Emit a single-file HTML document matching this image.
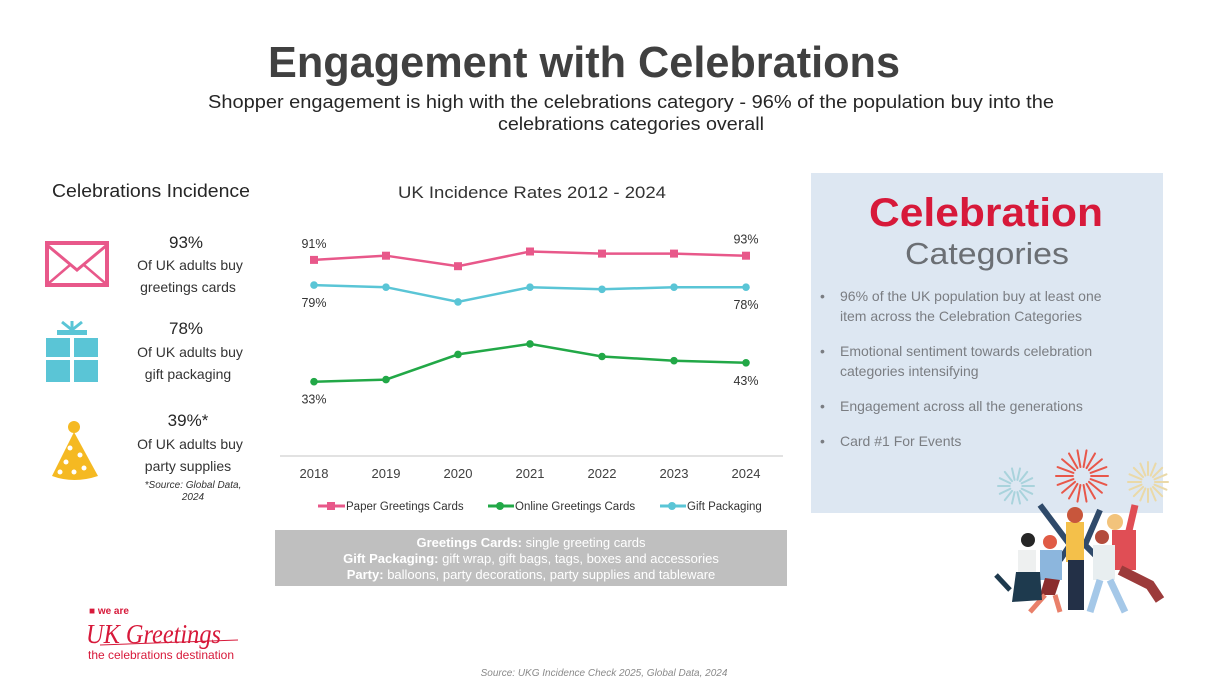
<!DOCTYPE html>
<html><head><meta charset="utf-8"><style>
html,body{margin:0;padding:0;background:#fff;}
svg{display:block;font-family:"Liberation Sans",sans-serif;}
</style></head><body>
<svg id="page" width="1208" height="684" viewBox="0 0 1208 684" xmlns="http://www.w3.org/2000/svg">
<text x="584" y="77" text-anchor="middle" font-size="44" font-weight="bold" fill="#404040" textLength="632" lengthAdjust="spacingAndGlyphs">Engagement with Celebrations</text>
<text x="631" y="108" text-anchor="middle" font-size="18" fill="#262626" textLength="846" lengthAdjust="spacingAndGlyphs">Shopper engagement is high with the celebrations category - 96% of the population buy into the</text>
<text x="631" y="130" text-anchor="middle" font-size="18" fill="#262626" textLength="266" lengthAdjust="spacingAndGlyphs">celebrations categories overall</text>

<!-- left panel -->
<text x="151" y="197" text-anchor="middle" font-size="18" fill="#262626" textLength="198" lengthAdjust="spacingAndGlyphs">Celebrations Incidence</text>
<g>
<rect x="47" y="243" width="60" height="42" fill="none" stroke="#e8588a" stroke-width="4"/>
<polyline points="47,245 77,270 107,245" fill="none" stroke="#e8588a" stroke-width="3"/>
<line x1="49" y1="283" x2="70" y2="265" stroke="#e8588a" stroke-width="2.5"/>
<line x1="105" y1="283" x2="84" y2="265" stroke="#e8588a" stroke-width="2.5"/>
</g>
<text x="186" y="248" text-anchor="middle" font-size="17" fill="#262626">93%</text>
<text x="190" y="270" text-anchor="middle" font-size="14" fill="#333">Of UK adults buy</text>
<text x="188" y="292" text-anchor="middle" font-size="14" fill="#333">greetings cards</text>
<g fill="#5ac5d6">
<rect x="46" y="338" width="24" height="19"/><rect x="74" y="338" width="24" height="19"/>
<rect x="46" y="360" width="24" height="22"/><rect x="74" y="360" width="24" height="22"/>
<rect x="57" y="330" width="30" height="5"/>
<path d="M72 330 L62 322 M72 330 L72 321 M72 330 L82 322" stroke="#5ac5d6" stroke-width="3"/>
</g>
<text x="186" y="334" text-anchor="middle" font-size="17" fill="#262626">78%</text>
<text x="190" y="357" text-anchor="middle" font-size="14" fill="#333">Of UK adults buy</text>
<text x="188" y="379" text-anchor="middle" font-size="14" fill="#333">gift packaging</text>
<g>
<path d="M74 432 L98 476 Q74 484 52 476 Z" fill="#f5b922"/>
<circle cx="74" cy="427" r="6" fill="#f5b922"/>
<circle cx="70" cy="448" r="2.5" fill="#fff"/><circle cx="80" cy="455" r="2.5" fill="#fff"/><circle cx="66" cy="462" r="2.5" fill="#fff"/><circle cx="84" cy="468" r="2.5" fill="#fff"/><circle cx="74" cy="472" r="2.5" fill="#fff"/><circle cx="60" cy="472" r="2.5" fill="#fff"/>
</g>
<text x="188" y="426" text-anchor="middle" font-size="17" fill="#262626">39%*</text>
<text x="190" y="449" text-anchor="middle" font-size="14" fill="#333">Of UK adults buy</text>
<text x="188" y="471" text-anchor="middle" font-size="14" fill="#333">party supplies</text>
<text x="193" y="488" text-anchor="middle" font-size="10" font-style="italic" fill="#333">*Source: Global Data,</text>
<text x="193" y="500" text-anchor="middle" font-size="10" font-style="italic" fill="#333">2024</text>

<!-- chart -->
<text x="532" y="198" text-anchor="middle" font-size="17" fill="#333" textLength="268" lengthAdjust="spacingAndGlyphs">UK Incidence Rates 2012 - 2024</text>
<line x1="280" y1="456" x2="783" y2="456" stroke="#d9d9d9" stroke-width="1.5"/>
<g id="chart"></g>
<g>
<g><line x1="318" y1="506" x2="345" y2="506" stroke="#e8588a" stroke-width="3"/><rect x="327" y="502" width="8" height="8" fill="#e8588a"/><text x="346" y="510" font-size="11.5" fill="#333">Paper Greetings Cards</text></g>
<g><line x1="488" y1="506" x2="514" y2="506" stroke="#22a847" stroke-width="3"/><circle cx="500" cy="506" r="4" fill="#22a847"/><text x="515" y="510" font-size="11.5" fill="#333">Online Greetings Cards</text></g>
<g><line x1="660" y1="506" x2="686" y2="506" stroke="#5ac5d6" stroke-width="3"/><circle cx="672" cy="506" r="4" fill="#5ac5d6"/><text x="687" y="510" font-size="11.5" fill="#333">Gift Packaging</text></g>
</g>

<g>
<rect x="275" y="530" width="512" height="56" fill="#bfbfbf"/>
<text x="531" y="547" text-anchor="middle" font-size="13" fill="#fff"><tspan font-weight="bold">Greetings Cards:</tspan> single greeting cards</text>
<text x="531" y="563" text-anchor="middle" font-size="13" fill="#fff"><tspan font-weight="bold">Gift Packaging:</tspan> gift wrap, gift bags, tags, boxes and accessories</text>
<text x="531" y="579" text-anchor="middle" font-size="13" fill="#fff"><tspan font-weight="bold">Party:</tspan> balloons, party decorations, party supplies and tableware</text>
</g>

<!-- right panel -->
<rect x="811" y="173" width="352" height="340" fill="#dde7f2"/>
<text x="986" y="226" text-anchor="middle" font-size="40" font-weight="bold" fill="#d7193a" textLength="234" lengthAdjust="spacingAndGlyphs">Celebration</text>
<text x="987" y="264" text-anchor="middle" font-size="31" fill="#6b6f74" textLength="164" lengthAdjust="spacingAndGlyphs">Categories</text>
<g font-size="14" fill="#7a7d82">
<text x="820" y="301">•</text><text x="840" y="301">96% of the UK population buy at least one</text>
<text x="840" y="321">item across the Celebration Categories</text>
<text x="820" y="356">•</text><text x="840" y="356">Emotional sentiment towards celebration</text>
<text x="840" y="376">categories intensifying</text>
<text x="820" y="411">•</text><text x="840" y="411">Engagement across all the generations</text>
<text x="820" y="446">•</text><text x="840" y="446">Card #1 For Events</text>
</g>
<g stroke-width="2" stroke-linecap="round">
<g id="fw1" stroke="#e8574a"></g><g id="fw2" stroke="#a9d3dc"></g><g id="fw3" stroke="#ead9a8"></g>
</g>
<g>
<path d="M1040 505 L1070 545 L1060 560" stroke="#2f4a6a" stroke-width="6" fill="none"/>
<path d="M1100 510 L1085 545 L1100 560" stroke="#2f4a6a" stroke-width="6" fill="none"/>
<rect x="1066" y="522" width="18" height="40" fill="#f4c04a"/>
<rect x="1068" y="560" width="16" height="50" fill="#233047"/>
<circle cx="1075" cy="515" r="8" fill="#c8563c"/>
<rect x="1112" y="530" width="24" height="40" fill="#e04e55"/>
<path d="M1128 535 L1135 505" stroke="#e04e55" stroke-width="7"/>
<path d="M1120 570 L1150 585 L1160 600" stroke="#9c3b3b" stroke-width="10" fill="none"/>
<circle cx="1115" cy="522" r="8" fill="#f2c37b"/>
<rect x="1093" y="545" width="22" height="35" fill="#e8eef0"/>
<path d="M1100 580 L1090 612 M1110 580 L1125 612" stroke="#a5c8e8" stroke-width="7"/>
<circle cx="1102" cy="537" r="7" fill="#b34c3c"/>
<rect x="1040" y="550" width="22" height="30" fill="#8cb6dd"/>
<path d="M1045 578 L1060 580 L1055 595 L1040 595 Z" fill="#8b2d2d"/>
<path d="M1045 595 L1030 612 M1055 595 L1060 612" stroke="#e9806a" stroke-width="5"/>
<circle cx="1050" cy="542" r="7" fill="#e05b45"/>
<rect x="1018" y="550" width="18" height="25" fill="#eef0f0"/>
<path d="M1016 572 L1040 572 L1042 600 L1012 602 Z" fill="#1e3a4e"/>
<circle cx="1028" cy="540" r="7" fill="#262626"/>
<path d="M1010 590 L996 575" stroke="#1e3a4e" stroke-width="5"/>
</g>

<!-- logo -->
<g fill="#d7193a">
<text x="89" y="614" font-size="10" font-weight="bold">■ we are</text>
<text x="86" y="643" font-size="27" font-style="italic" font-family="Liberation Serif, serif" textLength="135" lengthAdjust="spacingAndGlyphs">UK Greetings</text>
<line x1="100" y1="645" x2="238" y2="640" stroke="#d7193a" stroke-width="1"/>
<text x="88" y="659" font-size="12" textLength="146" lengthAdjust="spacingAndGlyphs">the celebrations destination</text>
</g>
<text x="604" y="676" text-anchor="middle" font-size="10" font-style="italic" fill="#8a8a8a">Source: UKG Incidence Check 2025, Global Data, 2024</text>
</svg>
<script>
const years = ["2018","2019","2020","2021","2022","2023","2024"];
const paperValues = [91, 93, 88, 95, 94, 94, 93];
const giftValues = [79, 78, 71, 78, 77, 78, 78];
const onlineValues = [33, 34, 46, 51, 45, 43, 42];
const paperLabels = ["91%", "93%"];
const giftLabels = ["79%", "78%"];
const onlineLabels = ["33%", "43%"];

const NS = "http://www.w3.org/2000/svg";
const chart = document.getElementById("chart");
function xPos(i){ return 314 + i * (746 - 314) / (years.length - 1); }
function yPos(v){ return 451 - 2.1 * v; }
function mk(tag, attrs){ const e = document.createElementNS(NS, tag); for (const k in attrs) e.setAttribute(k, attrs[k]); return e; }

years.forEach((y, i) => {
  const t = mk("text", {x: xPos(i), y: 478, "text-anchor": "middle", "font-size": 13, fill: "#404040"});
  
  
  t.textContent = y;
  chart.appendChild(t);
});

function series(values, color, square, name, labels, above){
  const pts = values.map((v, i) => xPos(i) + "," + yPos(v)).join(" ");
  const pl = mk("polyline", {points: pts, fill: "none", stroke: color, "stroke-width": 2.5});
  
  
  chart.appendChild(pl);
  values.forEach((v, i) => {
    let m;
    if (square) m = mk("rect", {x: xPos(i) - 4, y: yPos(v) - 4, width: 8, height: 8, fill: color});
    else m = mk("circle", {cx: xPos(i), cy: yPos(v), r: 3.8, fill: color});
    
    
    chart.appendChild(m);
  });
  [0, values.length - 1].forEach((idx, k) => {
    const up = above[k];
    const t = mk("text", {x: xPos(idx), y: yPos(values[idx]) + (up ? -12 : 22), "text-anchor": "middle", "font-size": 12.5, fill: "#333"});
    
    
    t.textContent = labels[k];
    chart.appendChild(t);
  });
}
series(paperValues, "#e8588a", true, "paper-greetings", paperLabels, [true, true]);
series(giftValues, "#5ac5d6", false, "gift-packaging", giftLabels, [false, false]);
series(onlineValues, "#22a847", false, "online-greetings", onlineLabels, [false, false]);

function burst(id, cx, cy, r, n){
  const g = document.getElementById(id);
  for (let i = 0; i < n; i++){
    const a = Math.PI * 2 * i / n;
    const l = mk("line", {x1: cx + Math.cos(a) * r * 0.35, y1: cy + Math.sin(a) * r * 0.35, x2: cx + Math.cos(a) * r, y2: cy + Math.sin(a) * r});
    
    
    g.appendChild(l);
  }
}
burst("fw1", 1082, 476, 26, 18);
burst("fw2", 1016, 486, 18, 14);
burst("fw3", 1148, 482, 20, 16);
</script>
</body></html>
